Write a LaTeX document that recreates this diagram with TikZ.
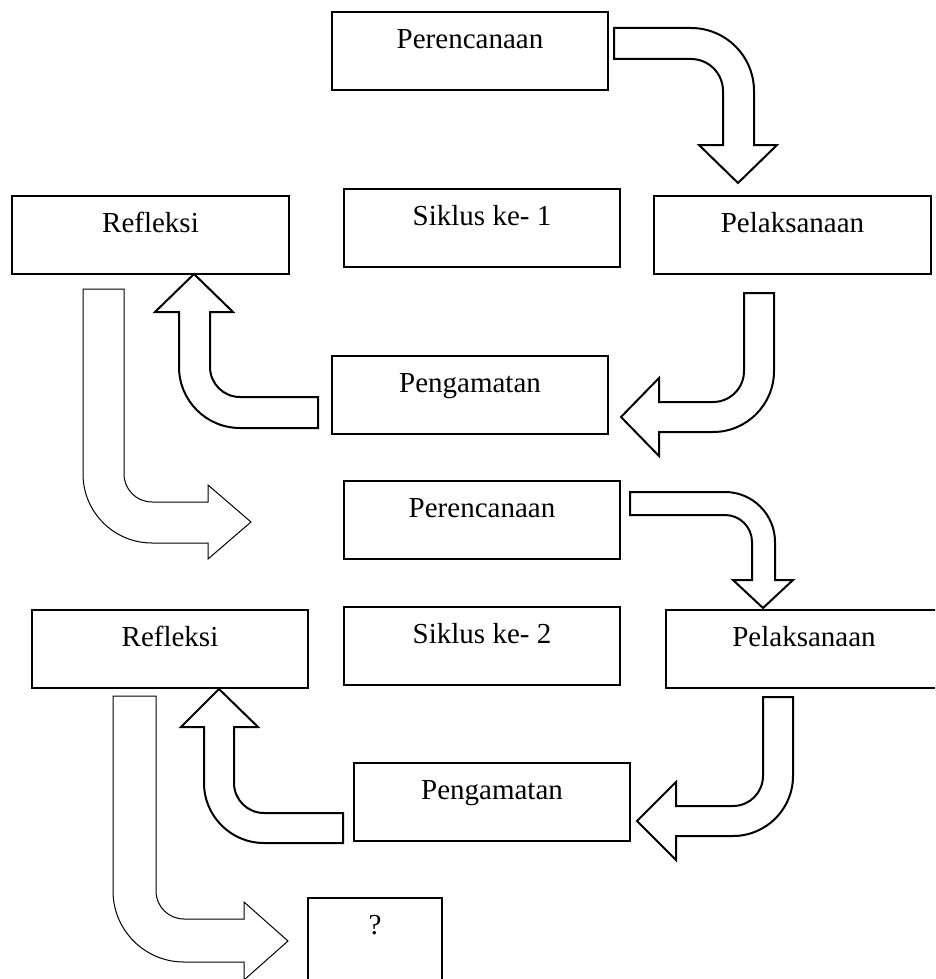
\documentclass[tikz,border=0pt]{standalone}
\usepackage{fontspec}
\setmainfont{Liberation Serif}
\begin{document}
\begin{tikzpicture}[x=1pt,y=-1pt,
  box/.style={draw, line width=1.6pt, fill=white, minimum width=276pt, inner sep=0pt,
    text height=36.5pt, text depth=41.5pt, font=\fontsize{29}{34}\selectfont},
  barrow/.style={draw, line width=2pt, fill=white, line join=miter},
  tarrow/.style={draw, line width=1pt, fill=white, line join=miter}]
\clip (0,0) rectangle (935,979);
\fill[white] (0,0) rectangle (935,979);

% boxes
\node[box] (p1) at (470,51) {Perencanaan};
\node[box, minimum width=277pt] (r1) at (150.5,235) {Refleksi};
\node[box] (s1) at (482,228) {Siklus ke- 1};
\node[box, minimum width=277pt] (l1) at (792.5,235) {Pelaksanaan};
\node[box] (g1) at (470,395) {Pengamatan};
\node[box] (p2) at (482,520) {Perencanaan};
\node[box] (r2) at (170,649) {Refleksi};
\node[box] (s2) at (482,646) {Siklus ke- 2};
\node[box] (l2) at (804,649) {Pelaksanaan};
\node[box] (g2) at (492,802) {Pengamatan};
\node[box, minimum width=134pt, text depth=63.5pt] (q) at (375,948) {?};

% A: Perencanaan 1 -> Pelaksanaan 1
\draw[barrow] (614,28) -- (691,28) arc (-90:0:63) -- (754,145) -- (777,145) -- (738,183)
  -- (699,145) -- (723,145) -- (723,91) arc (0:-90:32) -- (614,59) -- cycle;
% B: Pelaksanaan 1 -> Pengamatan 1
\draw[barrow] (744,293) -- (774,293) -- (774,371) arc (0:90:61) -- (659,432) -- (659,456)
  -- (621,417) -- (659,378) -- (659,402) -- (713,402) arc (90:0:31) -- cycle;
% C: Pengamatan 1 -> Refleksi 1
\draw[barrow] (318,397) -- (240,397) arc (90:180:30) -- (210,312) -- (233,312) -- (194,274)
  -- (155,312) -- (179,312) -- (179,367) arc (180:90:61) -- (318,428) -- cycle;
% D: Refleksi 1 -> Perencanaan 2
\draw[tarrow] (83,289) -- (124,289) -- (124,474) arc (180:90:28) -- (208,502) -- (208,485)
  -- (251,522) -- (208,559) -- (208,543) -- (152,543) arc (90:180:69) -- cycle;
% E: Perencanaan 2 -> Pelaksanaan 2
\draw[barrow] (630,492) -- (725,492) arc (-90:0:50) -- (775,580) -- (793,580) -- (763,608)
  -- (733,580) -- (752,580) -- (752,542) arc (0:-90:27) -- (630,515) -- cycle;
% F: Pengamatan 2 -> Refleksi 2
\draw[barrow] (343,813) -- (264,813) arc (90:180:30) -- (234,727) -- (258,727) -- (219,689)
  -- (181,727) -- (204,727) -- (204,783) arc (180:90:60) -- (343,843) -- cycle;
% G: Pelaksanaan 2 -> Pengamatan 2
\draw[barrow] (763,697) -- (793,697) -- (793,776) arc (0:90:60) -- (676,836) -- (676,860)
  -- (637,821) -- (676,782) -- (676,806) -- (733,806) arc (90:0:30) -- cycle;
% H: Refleksi 2 -> ?
\draw[tarrow] (113,696) -- (156,696) -- (156,891) arc (180:90:28) -- (244,919) -- (244,902)
  -- (288,941) -- (244,980) -- (244,962) -- (184,962) arc (90:180:71) -- cycle;
\end{tikzpicture}
\end{document}
